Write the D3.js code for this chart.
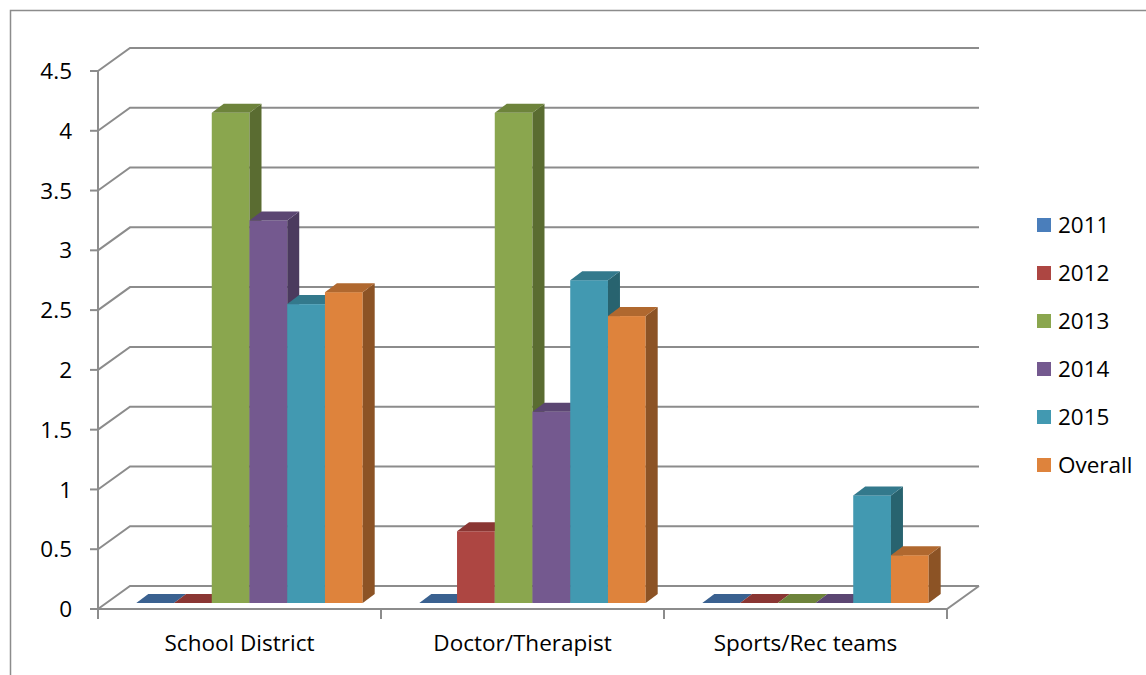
<!DOCTYPE html>
<html>
<head>
<meta charset="utf-8">
<script src="https://cdn.jsdelivr.net/npm/d3@7"></script>
<style>
  body { margin: 0; background: #fff; }
  text { font-family: "Open Sans", Lato, sans-serif; fill: #000; }
</style>
</head>
<body>
<div id="chart"></div>
<script>
// data
const categories = ["School District", "Doctor/Therapist", "Sports/Rec teams"];
const seriesNames = ["2011", "2012", "2013", "2014", "2015", "Overall"];
const values2011 = [0, 0, 0];
const values2012 = [0, 0.6, 0];
const values2013 = [4.1, 4.1, 0];
const values2014 = [3.2, 1.6, 0];
const values2015 = [2.5, 2.7, 0.9];
const valuesOverall = [2.6, 2.4, 0.4];
const yTicks = [0, 0.5, 1, 1.5, 2, 2.5, 3, 3.5, 4, 4.5];

const seriesValues = [values2011, values2012, values2013, values2014, values2015, valuesOverall];

// front / top / side shades per series
const frontColors = ["#4a7ebb", "#ad4642", "#8aa64e", "#74598f", "#4299b1", "#de833c"];
const topColors   = ["#3a6190", "#8a3633", "#6d833b", "#5b4672", "#33798c", "#b0682f"];
const sideColors  = ["#2f4f76", "#73302d", "#5a6c31", "#4b3a5e", "#28636f", "#8c5325"];

const W = 1146, H = 675;
const fontSize = "22.5px";
const wallDx = 32, wallDy = -23;   // depth of the walls
const barDx = 10, barDy = -6;      // where the bar row sits in depth
const depDx = 12, depDy = -9;      // depth of one bar

const svg = d3.select("#chart").append("svg")
    .attr("width", W)
    .attr("height", H);

// outer chart border
svg.append("path")
    .attr("d", `M10.5,${H + 5}V10.5H${W + 5}`)
    .attr("fill", "none")
    .attr("stroke", "#8c8c8c")
    .attr("stroke-width", 1.5);

const x0 = d3.scaleBand().domain(categories).range([98, 947]);
const x1 = d3.scaleBand().domain(seriesNames).range([0, x0.bandwidth()])
    .paddingInner(0).paddingOuter(0.75);
const y = d3.scaleLinear().domain([0, 4.5]).range([609, 71]);

const xLeft = x0.range()[0], xRight = x0.range()[1];
const gridColor = "#8c8c8c";

// back wall + side wall gridlines
const grid = svg.append("g")
    .attr("fill", "none")
    .attr("stroke", gridColor)
    .attr("stroke-width", 2);

grid.selectAll("path.grid")
    .data(yTicks)
    .enter().append("path")
    .attr("class", "grid")
    .attr("d", v => `M${xLeft},${y(v)}L${xLeft + wallDx},${y(v) + wallDy}H${xRight + wallDx}`);

// floor front and right edges
grid.append("path")
    .attr("d", `M${xLeft},${y(0)}H${xRight}L${xRight + wallDx},${y(0) + wallDy}`);

// front value axis
grid.append("path")
    .attr("d", `M${xLeft},${y(yTicks[yTicks.length - 1])}V${y(0)}`);

grid.selectAll("path.ytick")
    .data(yTicks)
    .enter().append("path")
    .attr("class", "ytick")
    .attr("d", v => `M${xLeft - 8},${y(v)}H${xLeft}`);

// category ticks
const catEdges = categories.map(c => x0(c)).concat([xRight]);
grid.selectAll("path.xtick")
    .data(catEdges)
    .enter().append("path")
    .attr("class", "xtick")
    .attr("d", d => `M${d},${y(0)}V${y(0) + 10}`);

// y tick labels
svg.append("g").selectAll("text")
    .data(yTicks)
    .enter().append("text")
    .attr("x", 72)
    .attr("y", v => y(v))
    .attr("dy", "0.36em")
    .attr("text-anchor", "end")
    .style("font-size", fontSize)
    .text(v => String(v));

// category labels
svg.append("g").selectAll("text")
    .data(categories)
    .enter().append("text")
    .attr("x", c => x0(c) + x0.bandwidth() / 2)
    .attr("y", 643)
    .attr("dy", "0.36em")
    .attr("text-anchor", "middle")
    .style("font-size", fontSize)
    .text(c => c);

// 3d bars
const bars = [];
categories.forEach((c, ci) => {
    seriesNames.forEach((s, si) => {
        bars.push({ cat: c, series: s, si: si, value: seriesValues[si][ci] });
    });
});

const barG = svg.append("g");
const node = barG.selectAll(".bar")
    .data(bars)
    .enter().append("g")
    .attr("class", "bar");

const geom = d => {
    const x = x0(d.cat) + x1(d.series) + barDx;
    const w = x1.bandwidth();
    const top = y(d.value) + barDy;
    const bot = y(0) + barDy;
    return { x, w, top, bot };
};

node.filter(d => d.value > 0).append("rect")
    .attr("x", d => geom(d).x)
    .attr("y", d => geom(d).top)
    .attr("width", d => geom(d).w)
    .attr("height", d => geom(d).bot - geom(d).top)
    .attr("fill", d => frontColors[d.si]);

node.filter(d => d.value > 0).append("path")
    .attr("d", d => {
        const g = geom(d);
        return `M${g.x + g.w},${g.top}L${g.x + g.w + depDx},${g.top + depDy}V${g.bot + depDy}L${g.x + g.w},${g.bot}Z`;
    })
    .attr("fill", d => sideColors[d.si]);

node.append("path")
    .attr("d", d => {
        const g = geom(d);
        return `M${g.x},${g.top}H${g.x + g.w}L${g.x + g.w + depDx},${g.top + depDy}H${g.x + depDx}Z`;
    })
    .attr("fill", d => topColors[d.si]);

// legend
const legend = svg.append("g").selectAll("g")
    .data(seriesNames)
    .enter().append("g")
    .attr("transform", (d, i) => `translate(1037, ${225 + i * 48})`);

legend.append("rect")
    .attr("x", 0)
    .attr("y", -7)
    .attr("width", 14)
    .attr("height", 14)
    .attr("fill", (d, i) => frontColors[i]);

legend.append("text")
    .attr("x", 21)
    .attr("y", 0)
    .attr("dy", "0.36em")
    .style("font-size", fontSize)
    .text(d => d);
</script>
</body>
</html>
